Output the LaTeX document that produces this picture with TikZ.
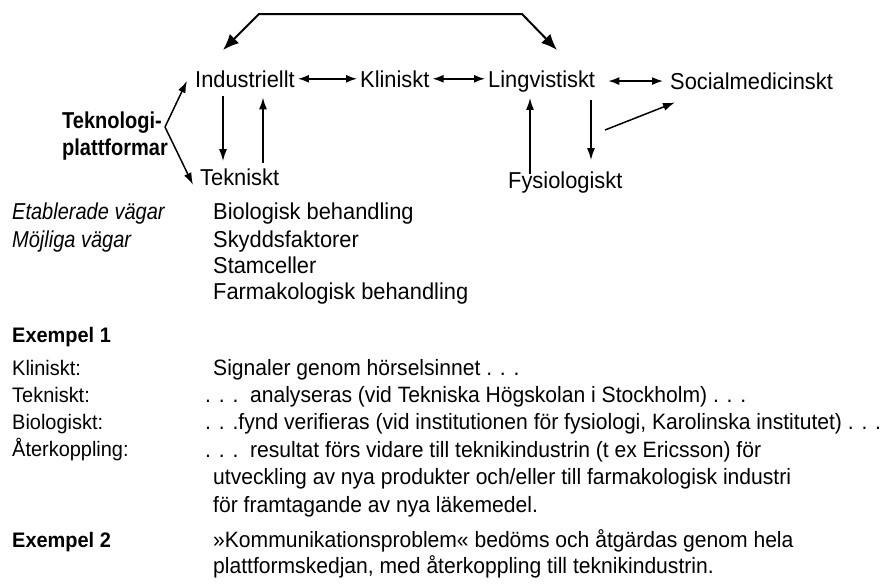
\documentclass[tikz,border=0pt]{standalone}
\usepackage{fontspec}
\setmainfont[FakeStretch=0.95]{Liberation Sans}
\newfontfamily\diafont[FakeStretch=0.95]{Liberation Sans}
\newfontfamily\narfont[FakeStretch=0.87]{Liberation Sans}
\usetikzlibrary{arrows.meta}
\tikzset{
  dia/.style={font=\diafont\fontsize{23}{27}\selectfont, inner sep=3pt, anchor=base west},
  txt/.style={font=\fontsize{22.2}{27.4}\selectfont, inner sep=0pt, anchor=base west, align=left},
  way/.style={font=\diafont\fontsize{23}{26}\selectfont, inner sep=0pt, anchor=base west, align=left},
  arr/.style={-{Latex[length=12pt,width=8pt]}, line width=1.5pt},
  dbl/.style={{Latex[length=11pt,width=8pt]}-{Latex[length=11pt,width=8pt]}, line width=1.5pt},
  bigarr/.style={{Latex[length=16pt,width=13pt]}-{Latex[length=16pt,width=13pt]}, line width=2pt}
}
\begin{document}
\begin{tikzpicture}[x=1pt,y=-1pt]
\useasboundingbox (0,0) rectangle (887,584);
% platforms
\node[dia] (ind) at (192,87) {Industriellt};
\node[dia] (kli) at (357,87) {Kliniskt};
\node[dia] (lin) at (485,87) {Lingvistiskt};
\node[dia] (soc) at (667,89) {Socialmedicinskt};
\node[dia] (tek) at (197,185) {Tekniskt};
\node[dia] (fys) at (505,188) {Fysiologiskt};
% multi-line nodes sit on their last line
\node[dia, font=\narfont\bfseries\fontsize{23}{27}\selectfont, align=left, inner sep=0pt] (plat) at (62,155) {Teknologi-\\plattformar};
\coordinate (brk) at (165,127);
\coordinate (topL) at (223,50);
\coordinate (topR) at (557,50);
\coordinate (fyssoc) at (605,130);
% connections
\draw[bigarr] (topL) -- (259,14) -- (522,14) -- (topR);
\draw[dbl] (ind.east) -- (ind.east -| kli.west);
\draw[dbl] (kli.east) -- (kli.east -| lin.west);
\draw[dbl, shorten <=10pt, shorten >=4pt] (lin.east) -- (lin.east -| soc.west);
\draw[arr, shorten <=6pt, shorten >=4pt] ([xshift=31pt]ind.south west) -- ([xshift=31pt]ind.south west |- tek.north);
\draw[arr, shorten <=2pt, shorten >=7pt] ([xshift=66pt]tek.north west) -- ([xshift=66pt]tek.north west |- ind.south);
\draw[arr, shorten <=-6pt, shorten >=3pt] ([xshift=25pt]fys.north west) -- ([xshift=25pt]fys.north west |- lin.south);
\draw[arr, shorten <=5pt, shorten >=8pt] ([xshift=106pt]lin.south west) -- ([xshift=106pt]lin.south west |- fys.north);
\draw[arr] (fyssoc) -- ([shift={(8,10)}]soc.south west);
\draw[arr] (brk) -- ([shift={(-5,2)}]ind.west);
\draw[arr] (brk) -- ([shift={(-4,8)}]tek.west);
% ways
\node[way, font=\narfont\itshape\fontsize{23}{28}\selectfont] (etab) at (12,247) {Etablerade vägar\\Möjliga vägar};
\node[way] (bio) at (213,219) {Biologisk behandling};
\node[way] (mojl) at (213,299) {Skyddsfaktorer\\Stamceller\\Farmakologisk behandling};
% examples
\node[txt, font=\bfseries\fontsize{21}{27}\selectfont] (ex1) at (12,342) {Exempel 1};
\node[txt, font=\fontsize{21}{27}\selectfont] (exlab) at (12,456) {Kliniskt:\\Tekniskt:\\Biologiskt:\\Återkoppling:};
\node[txt] (extxt) at (213,512) {Signaler genom hörselsinnet . . .\\
\hspace*{-8pt}. . .\ \ analyseras (vid Tekniska Högskolan i Stockholm) . . .\\
\hspace*{-8pt}. . .fynd verifieras (vid institutionen för fysiologi, Karolinska institutet) . . .\\
\hspace*{-8pt}. . .\ \ resultat förs vidare till teknikindustrin (t ex Ericsson) för\\
utveckling av nya produkter och/eller till farmakologisk industri\\
för framtagande av nya läkemedel.};
\node[txt, font=\bfseries\fontsize{21}{27}\selectfont] (ex2) at (12,547) {Exempel 2};
\node[txt, font=\fontsize{22.2}{26}\selectfont] (ex2txt) at (213,573) {»Kommunikationsproblem« bedöms och åtgärdas genom hela\\
plattformskedjan, med återkoppling till teknikindustrin.};
\end{tikzpicture}
\end{document}
